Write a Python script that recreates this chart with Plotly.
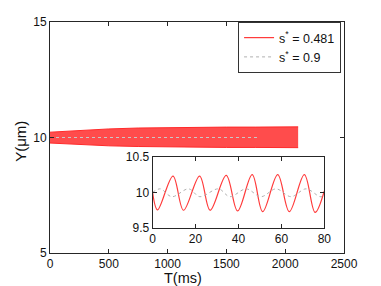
import plotly.graph_objects as go

# ---- data ----
# main panel: envelope of the dense s*=0.481 oscillation (ms, µm)
band_t = [0, 250, 500, 750, 1000, 1250, 1500, 1750, 2000, 2110]
band_upper = [10.23, 10.31, 10.37, 10.41, 10.43, 10.44, 10.45, 10.45, 10.46, 10.46]
band_lower = [9.76, 9.69, 9.64, 9.61, 9.59, 9.58, 9.57, 9.57, 9.56, 9.56]

# main panel: s*=0.9 trace (stays close to 10)
grey_main_t = [0, 1770]
grey_main_y = [10.0, 10.0]

# inset: first 80 ms (extrema)
inset_red_t = [0, 2.3, 9.5, 14.4, 21.9, 26.8, 34.3, 39.6, 46.4, 51.3, 58.3, 63.7, 70.7, 75.7, 80]
inset_red_y = [10.0, 9.755, 10.23, 9.75, 10.23, 9.75, 10.24, 9.74, 10.25, 9.73, 10.25, 9.73, 10.25, 9.72, 10.02]

inset_grey_t = [0, 3.6, 9, 16.8, 22, 30.7, 36, 43.6, 50.5, 57.5, 64.5, 71.5, 78, 80]
inset_grey_y = [10.0, 10.05, 9.94, 10.05, 9.94, 10.05, 9.94, 10.05, 9.94, 10.05, 9.94, 10.05, 9.94, 9.95]

main_xticks = [0, 500, 1000, 1500, 2000, 2500]
main_yticks = [5, 10, 15]
inset_xticks = [0, 20, 40, 60, 80]
inset_yticks = [9.5, 10, 10.5]

FONT = "Liberation Sans, Arial, sans-serif"
AX = "#262626"

fig = go.Figure()
fig.add_trace(go.Scatter(x=band_t, y=band_upper, mode="lines",
                         line=dict(color="#ff2a2a", width=1), showlegend=False,
                         hoverinfo="skip"))
fig.add_trace(go.Scatter(x=band_t, y=band_lower, mode="lines", fill="tonexty",
                         fillcolor="rgba(255,45,45,0.85)",
                         line=dict(color="#ff2a2a", width=1), showlegend=False,
                         hoverinfo="skip"))
fig.add_trace(go.Scatter(x=grey_main_t, y=grey_main_y, mode="lines",
                         line=dict(color="#c8c8c8", width=1, dash="dot"),
                         showlegend=False))
fig.add_trace(go.Scatter(x=inset_red_t, y=inset_red_y, mode="lines",
                         line=dict(color="#ff3b3b", width=1.2, shape="spline"),
                         name="s<sup>*</sup> = 0.481", xaxis="x2", yaxis="y2"))
fig.add_trace(go.Scatter(x=inset_grey_t, y=inset_grey_y, mode="lines",
                         line=dict(color="#b0b0b0", width=1, dash="dot", shape="spline"),
                         name="s<sup>*</sup> = 0.9", xaxis="x2", yaxis="y2"))

common = dict(showline=True, linecolor=AX, linewidth=1, mirror="ticks",
              ticks="inside", ticklen=4, tickcolor=AX, showgrid=False,
              zeroline=False, automargin=False,
              tickfont=dict(size=12, color="#111", family=FONT))

fig.update_layout(
    width=381, height=286,
    margin=dict(l=50, r=37, t=22, b=33, pad=0, autoexpand=False),
    paper_bgcolor="white", plot_bgcolor="white",
    font=dict(family=FONT, color="#111"),
    xaxis=dict(domain=[0, 1], range=[0, 2500], tickvals=main_xticks, **common),
    yaxis=dict(domain=[0, 1], range=[5, 15], tickvals=main_yticks, **common),
    xaxis2=dict(domain=[0.349, 0.933], anchor="y2", range=[0, 80],
                tickvals=inset_xticks, **common),
    yaxis2=dict(domain=[0.108, 0.4165], anchor="x2", range=[9.5, 10.5],
                tickvals=inset_yticks, ticktext=["9.5", "10", "10.5"], **common),
    legend=dict(x=0.99, y=1.0, xanchor="right", yanchor="top",
                bgcolor="white", bordercolor="#333", borderwidth=1,
                font=dict(size=12.5, family=FONT, color="#111"),
                traceorder="normal", tracegroupgap=0),
    annotations=[
        dict(text="T(ms)", xref="paper", yref="paper", x=0.453, y=-0.108,
             showarrow=False, font=dict(size=14.5, family=FONT, color="#111"),
             xanchor="center", yanchor="middle"),
        dict(text="Y(μm)", xref="paper", yref="paper", x=-0.1, y=0.484,
             showarrow=False, textangle=-90,
             font=dict(size=15, family=FONT, color="#111"),
             xanchor="center", yanchor="middle"),
    ],
)

fig.write_html("out.html", config={"displayModeBar": False},
               post_script="document.body.style.margin='0';document.body.style.padding='0';")
